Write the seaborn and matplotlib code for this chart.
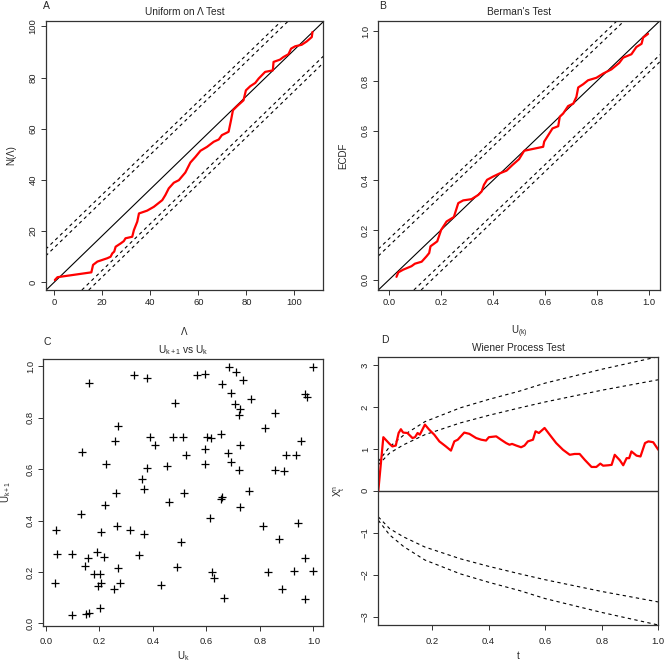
import numpy as np
import pandas as pd
import matplotlib
matplotlib.use("Agg")
import matplotlib.pyplot as plt
import seaborn as sns

# ---- panel A: N(Lambda) vs Lambda (vertices)
lam_A = [0.3, 1.4, 2.8, 15.5, 16.2, 18.0, 22.1, 23.5, 24.2, 25.0, 25.6, 27.7, 29.0, 29.7,
         32.5, 33.2, 34.6, 35.3, 38.7, 41.5, 45.0, 46.3, 47.7, 49.8, 51.9, 54.6, 56.7, 58.8,
         60.9, 63.6, 66.4, 68.5, 69.8, 72.6, 73.6, 74.4, 76.1, 78.8, 79.8, 81.6, 83.7, 85.1,
         87.8, 91.0, 91.3, 94.0, 95.4, 97.5, 98.6, 100.3, 103.0, 105.1, 107.2, 107.5]
n_A = [0.9, 2.0, 2.2, 3.9, 6.8, 8.1, 9.4, 10.0, 11.3, 12.0, 13.9, 15.2, 16.1, 17.2,
       17.8, 20.4, 23.7, 26.9, 28.0, 29.5, 32.1, 34.1, 36.7, 38.9, 39.9, 42.9, 46.8, 49.0,
       51.4, 52.9, 54.9, 55.8, 57.5, 58.8, 63.3, 67.2, 68.8, 71.1, 75.0, 76.6, 77.9, 79.6,
       82.2, 82.8, 86.1, 87.0, 88.0, 89.1, 91.3, 92.2, 92.8, 94.1, 95.8, 97.8]
slope_A = 0.909
bands_A = [13.5, 16.1]

# ---- panel B: ECDF vs U(k)
u_B = [0.028, 0.035, 0.054, 0.086, 0.099, 0.125, 0.144, 0.154, 0.159, 0.185, 0.200, 0.221,
       0.249, 0.266, 0.285, 0.317, 0.343, 0.356, 0.365, 0.377, 0.400, 0.426, 0.452, 0.475,
       0.500, 0.520, 0.593, 0.597, 0.629, 0.651, 0.657, 0.670, 0.689, 0.709, 0.721, 0.728,
       0.747, 0.766, 0.798, 0.824, 0.856, 0.886, 0.901, 0.933, 0.952, 0.972, 0.978, 0.997]
ecdf_B = [0.011, 0.029, 0.040, 0.054, 0.064, 0.072, 0.094, 0.107, 0.134, 0.154, 0.200, 0.234,
          0.252, 0.308, 0.319, 0.324, 0.341, 0.355, 0.382, 0.402, 0.415, 0.428, 0.439, 0.462,
          0.485, 0.519, 0.535, 0.556, 0.609, 0.618, 0.656, 0.669, 0.699, 0.709, 0.736, 0.774,
          0.787, 0.803, 0.813, 0.830, 0.847, 0.873, 0.894, 0.908, 0.937, 0.950, 0.975, 0.990]
bands_B = [0.137, 0.165]

# ---- panel C: U_{k+1} vs U_k
u_k = [0.033, 0.037, 0.043, 0.099, 0.098, 0.133, 0.136, 0.148, 0.149, 0.160, 0.161, 0.158,
       0.180, 0.192, 0.201, 0.195, 0.207, 0.201, 0.207, 0.216, 0.223, 0.227, 0.254, 0.259,
       0.263, 0.267, 0.269, 0.271, 0.279, 0.315, 0.329, 0.349, 0.361, 0.366, 0.366, 0.378,
       0.378, 0.390, 0.409, 0.430, 0.454, 0.461, 0.475, 0.482, 0.492, 0.505, 0.512, 0.516,
       0.525, 0.564, 0.595, 0.597, 0.597, 0.604, 0.612, 0.618, 0.622, 0.628, 0.656, 0.656,
       0.659, 0.657, 0.665, 0.682, 0.684, 0.693, 0.694, 0.709, 0.711, 0.721, 0.724, 0.727,
       0.725, 0.725, 0.736, 0.761, 0.768, 0.810, 0.818, 0.830, 0.873, 0.855, 0.858, 0.882,
       0.892, 0.899, 0.936, 0.929, 0.944, 0.954, 0.967, 0.969, 0.967, 0.977, 0.998, 0.998]
u_k1 = [0.158, 0.365, 0.268, 0.270, 0.031, 0.427, 0.666, 0.224, 0.035, 0.041, 0.937, 0.255,
        0.192, 0.277, 0.192, 0.146, 0.155, 0.061, 0.357, 0.258, 0.460, 0.619, 0.132, 0.709,
        0.509, 0.378, 0.214, 0.768, 0.158, 0.363, 0.968, 0.265, 0.563, 0.523, 0.348, 0.955,
        0.604, 0.727, 0.693, 0.149, 0.611, 0.473, 0.727, 0.857, 0.221, 0.315, 0.727, 0.507,
        0.655, 0.968, 0.622, 0.680, 0.972, 0.725, 0.408, 0.721, 0.201, 0.177, 0.736, 0.482,
        0.492, 0.930, 0.097, 0.661, 0.997, 0.898, 0.628, 0.855, 0.978, 0.810, 0.596, 0.833,
        0.693, 0.453, 0.946, 0.515, 0.874, 0.378, 0.760, 0.198, 0.328, 0.818, 0.596, 0.133,
        0.593, 0.654, 0.657, 0.204, 0.389, 0.709, 0.253, 0.094, 0.891, 0.881, 0.997, 0.204]

# ---- panel D: Wiener process test
t_D = [0.0102, 0.028, 0.050, 0.060, 0.072, 0.082, 0.090, 0.098, 0.113, 0.131, 0.140, 0.149,
       0.157, 0.175, 0.190, 0.208, 0.226, 0.249, 0.267, 0.279, 0.291, 0.314, 0.332, 0.356,
       0.374, 0.391, 0.401, 0.427, 0.444, 0.462, 0.474, 0.483, 0.498, 0.515, 0.527, 0.539,
       0.557, 0.566, 0.578, 0.598, 0.616, 0.639, 0.663, 0.687, 0.704, 0.722, 0.740, 0.764,
       0.781, 0.795, 0.805, 0.823, 0.835, 0.846, 0.864, 0.876, 0.888, 0.897, 0.905, 0.923,
       0.937, 0.953, 0.965, 0.982, 1.000]
x_D = [0.00, 1.28, 1.12, 1.06, 1.08, 1.38, 1.47, 1.39, 1.38, 1.26, 1.28, 1.38,
       1.34, 1.58, 1.46, 1.34, 1.18, 1.06, 0.96, 1.18, 1.22, 1.39, 1.36, 1.26,
       1.22, 1.20, 1.28, 1.30, 1.22, 1.14, 1.10, 1.12, 1.08, 1.04, 1.08, 1.18,
       1.22, 1.42, 1.38, 1.50, 1.34, 1.14, 0.98, 0.86, 0.88, 0.88, 0.74, 0.57,
       0.57, 0.65, 0.60, 0.61, 0.62, 0.86, 0.73, 0.61, 0.78, 0.78, 0.94, 0.84,
       0.82, 1.14, 1.18, 1.16, 0.98]
t_bound = [0.0102, 0.05, 0.10, 0.175, 0.30, 0.40, 0.51, 0.60, 0.80, 1.00]
outer_bound = [0.70, 1.05, 1.33, 1.65, 1.98, 2.18, 2.38, 2.57, 2.90, 3.20]
inner_bound = [0.62, 0.90, 1.10, 1.34, 1.62, 1.80, 1.98, 2.12, 2.40, 2.65]

sns.set_style("white")
plt.rcParams['font.family'] = ['Liberation Sans', 'DejaVu Sans']
plt.rcParams['mathtext.fontset'] = 'custom'
plt.rcParams['mathtext.rm'] = 'Liberation Sans'
plt.rcParams['mathtext.it'] = 'Liberation Sans'

fig = plt.figure(figsize=(6.65, 6.70), dpi=100)
W, H = 665.0, 670.0


def add_ax(x0, x1, y0, y1):
    return fig.add_axes([x0 / W, 1 - y1 / H, (x1 - x0) / W, (y1 - y0) / H])


axA = add_ax(45.7, 323.3, 20.7, 290.0)
axB = add_ax(378.3, 660.0, 20.7, 290.0)
axC = add_ax(43.3, 323.0, 358.7, 625.6)
axD = add_ax(378.3, 658.3, 356.7, 625.0)

dash = dict(color='black', lw=0.8, ls=(0, (3, 3)))

for ax in (axA, axB, axC, axD):
    for s in ax.spines.values():
        s.set_visible(True)
        s.set_color('#333333')
        s.set_linewidth(0.9)
    ax.tick_params(direction='out', length=3.5, width=0.7, colors='#333333',
                   labelsize=6.8, labelcolor='#222222', pad=2.5,
                   bottom=True, left=True)
for ax in (axC, axD):
    ax.tick_params(axis='x', pad=5.0)

# A
axA.axline((0, 0), slope=slope_A, color='black', lw=0.8)
for b in bands_A:
    axA.axline((0, b), slope=slope_A, **dash)
    axA.axline((0, -b), slope=slope_A, **dash)
sns.lineplot(x=lam_A, y=n_A, ax=axA, color='red', lw=1.6, sort=False, estimator=None)
axA.set_xlim(-3.5, 112)
axA.set_ylim(-3, 102.2)
axA.set_xticks([0, 20, 40, 60, 80, 100])
axA.set_yticks([0, 20, 40, 60, 80, 100])
axA.set_title("Uniform on Λ Test", fontsize=7.3, pad=4)
axA.set_xlabel("Λ", fontsize=7, labelpad=14)
axA.set_ylabel("N(Λ)", fontsize=7, labelpad=9)

# B
axB.axline((0, 0), slope=1, color='black', lw=0.8)
for b in bands_B:
    axB.axline((0, b), slope=1, **dash)
    axB.axline((0, -b), slope=1, **dash)
sns.lineplot(x=u_B, y=ecdf_B, ax=axB, color='red', lw=1.6, sort=False, estimator=None)
axB.set_xlim(-0.042, 1.043)
axB.set_ylim(-0.042, 1.043)
axB.set_xticks([0, 0.2, 0.4, 0.6, 0.8, 1.0])
axB.set_yticks([0, 0.2, 0.4, 0.6, 0.8, 1.0])
axB.set_xticklabels(["0.0", "0.2", "0.4", "0.6", "0.8", "1.0"])
axB.set_yticklabels(["0.0", "0.2", "0.4", "0.6", "0.8", "1.0"])
axB.set_title("Berman's Test", fontsize=7.3, pad=4)
axB.set_xlabel(r"U$_{\mathrm{(k)}}$", fontsize=7, labelpad=12)
axB.set_ylabel("ECDF", fontsize=7, labelpad=9)

# C
dfC = pd.DataFrame({'uk': u_k, 'uk1': u_k1})
sns.scatterplot(data=dfC, x='uk', y='uk1', ax=axC, marker='+', color='black', s=30,
                linewidth=0.9)
axC.set_xlim(-0.009, 1.036)
axC.set_ylim(-0.009, 1.03)
axC.set_xticks([0, 0.2, 0.4, 0.6, 0.8, 1.0])
axC.set_yticks([0, 0.2, 0.4, 0.6, 0.8, 1.0])
axC.set_xticklabels(["0.0", "0.2", "0.4", "0.6", "0.8", "1.0"])
axC.set_yticklabels(["0.0", "0.2", "0.4", "0.6", "0.8", "1.0"])
axC.set_title(r"U$_{\mathrm{k+1}}$ vs U$_{\mathrm{k}}$", fontsize=7.3, pad=4)
axC.set_xlabel(r"U$_{\mathrm{k}}$", fontsize=7, labelpad=2)
axC.set_ylabel(r"U$_{\mathrm{k+1}}$", fontsize=7, labelpad=9)

# D
axD.axhline(0, color='#333333', lw=1.0)
for bnd in (outer_bound, inner_bound):
    sns.lineplot(x=t_bound, y=bnd, ax=axD, sort=False, estimator=None, **dash)
    sns.lineplot(x=t_bound, y=[-v for v in bnd], ax=axD, sort=False, estimator=None, **dash)
sns.lineplot(x=t_D, y=x_D, ax=axD, color='red', lw=1.6, sort=False, estimator=None)
axD.set_xlim(0.0102, 1.0)
axD.set_ylim(-3.2, 3.2)
axD.set_xticks([0.2, 0.4, 0.6, 0.8, 1.0])
axD.set_yticks([-3, -2, -1, 0, 1, 2, 3])
axD.set_yticklabels(["−3", "−2", "−1", "0", "1", "2", "3"])
axD.set_title("Wiener Process Test", fontsize=7.3, pad=4)
axD.set_xlabel("t", fontsize=7, labelpad=4)
axD.set_ylabel(r"X$_{\mathrm{t}}^{\mathrm{n}}$", fontsize=7, labelpad=10)

for ax in (axA, axB, axC, axD):
    for lab in ax.get_yticklabels():
        lab.set_rotation(90)
        lab.set_va('center')

# panel letters
for txt, px, py in [("A", 43, 6), ("B", 379, 6), ("C", 43, 342), ("D", 381, 340)]:
    fig.text(px / W, 1 - py / H, txt, fontsize=7.5, ha='left', va='center')

fig.savefig("out.png", dpi=100)
